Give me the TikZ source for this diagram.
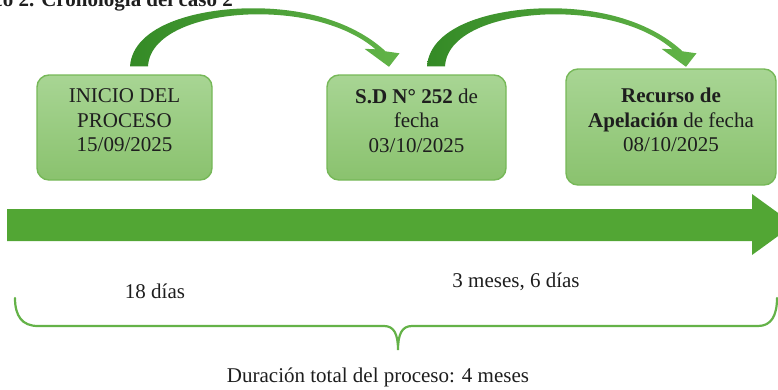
\documentclass[tikz,border=0pt]{standalone}
\usepackage{fontspec}
\setmainfont{Liberation Serif}
\usetikzlibrary{positioning}

\definecolor{textogris}{RGB}{30,30,30}
\definecolor{hitoclaro}{RGB}{168,213,148}
\definecolor{hitooscuro}{RGB}{138,194,110}
\definecolor{bordehito}{RGB}{118,184,88}
\definecolor{flechaosc}{RGB}{52,138,38}
\definecolor{flechaclara}{RGB}{98,180,72}
\definecolor{verdeeje}{RGB}{82,166,52}
\definecolor{verdellave}{RGB}{100,178,72}

\newcommand{\bajo}{\rule[-14pt]{0pt}{14pt}}

\begin{document}
\begin{tikzpicture}
[x=1pt, y=-1pt,
  every node/.style={text=textogris, font=\fontsize{21}{24.5}\selectfont, inner sep=2pt},
  hito/.style={draw=bordehito, line width=1.4pt, rounded corners=12pt,
    top color=hitoclaro, bottom color=hitooscuro, align=center},
  flecha/.style={left color=flechaosc, right color=flechaclara},
  eje/.style={fill=verdeeje},
  llave/.style={draw=verdellave, line width=2.2pt, line cap=round}]

\useasboundingbox (0,0) rectangle (778,389);

\node[anchor=base east, font=\fontsize{21}{24.5}\selectfont\bfseries] (titulo) at (235,6.5) {Gráfico 2. Cronología del caso 2};

\node[hito, minimum width=175pt, minimum height=105pt] (inicio) at (124.5,127.5) {INICIO DEL\\PROCESO\\15/09/2025\bajo};
\node[hito, minimum width=179pt, minimum height=105pt] (sd) at (416.5,127.5) {\textbf{S.D N° 252} de\\fecha\\03/10/2025\bajo};
\node[hito, minimum width=210pt, minimum height=116pt] (recurso) at (671,127) {\textbf{Recurso de}\\\textbf{Apelación} de fecha\\08/10/2025\bajo};

\foreach \desde/\dx in {inicio/0, sd/5}{
  \begin{scope}[shift={([xshift=\dx pt]\desde.north)}]
    \shade[flecha] (5.5,-8) .. controls (8.5,-50) and (75.5,-67) .. (133.5,-66)
      .. controls (195.5,-65) and (237.5,-45) .. (261,-23)
      -- (275,-21) -- (264.5,-7.5) -- (240,-25.5) -- (251,-25)
      .. controls (230.5,-43) and (190.5,-60) .. (133.5,-60)
      .. controls (80.5,-60) and (25.5,-43) .. (23.5,-8) -- cycle;
  \end{scope}
}

\fill[eje] (7,209) -- (752,209) -- (752,194) -- (794,224.5) -- (752,255) -- (752,241) -- (7,241) -- cycle;

\node[anchor=base] (dias) at (155,298) {18 días};
\node[anchor=base] (meses) at (516,287) {3 meses, 6 días};

\draw[llave] (15,298) .. controls (15,316) and (22,326) .. (38,326) -- (384,326)
  .. controls (394,326) and (398,334) .. (398,350)
  .. controls (398,334) and (402,326) .. (412,326) -- (758,326)
  .. controls (771,326) and (777,316) .. (777,298);

\node[anchor=base] (total) at (378,382) {Duración total del proceso: 4 meses};

\end{tikzpicture}
\end{document}
